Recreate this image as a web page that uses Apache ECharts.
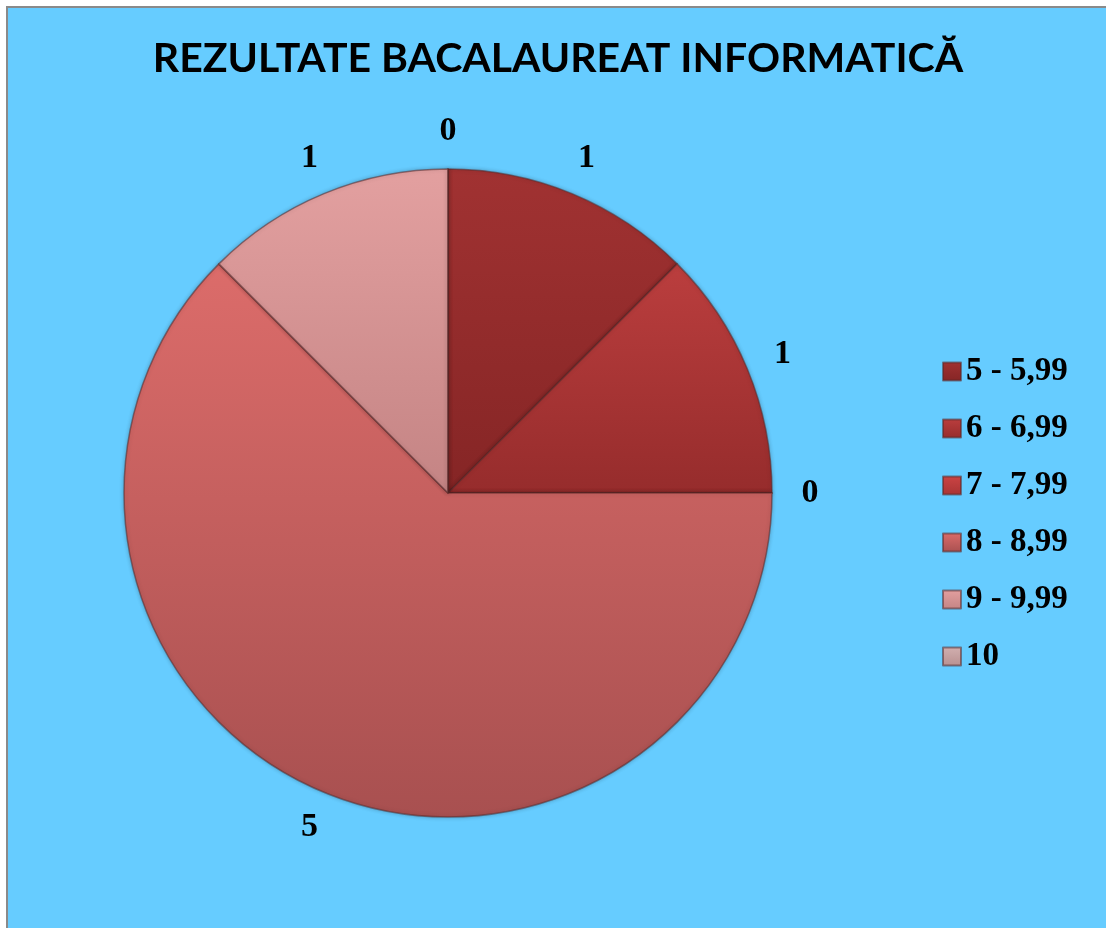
<!DOCTYPE html>
<html>
<head>
<meta charset="utf-8">
<script src="https://cdn.jsdelivr.net/npm/echarts@6/dist/echarts.min.js"></script>
<style>
  html, body { margin: 0; padding: 0; background: #ffffff; }
  #frame {
    position: absolute; left: 6px; top: 6px;
    width: 1100px; height: 922px;
    border-top: 2px solid #8a8a8a; border-left: 2px solid #8a8a8a;
    background: #66ccff;
  }
  #chart { width: 1100px; height: 922px; }
</style>
</head>
<body>
<div id="frame"><div id="chart"></div></div>
<script>
// note categories (intervale de note) and number of students
const categories = ['5 - 5,99', '6 - 6,99', '7 - 7,99', '8 - 8,99', '9 - 9,99', '10']
const counts = [1, 1, 0, 5, 1, 0]

// top / bottom shade of every slice
const topColors = ['#a13232', '#bb3e3e', '#cc4444', '#dc6c6a', '#e3a0a0', '#d2b0b0']
const bottomColors = ['#852525', '#962c2c', '#a83434', '#a85050', '#c48484', '#b89090']

const shade = (i) => new echarts.graphic.LinearGradient(0, 0, 0, 1, [
    { offset: 0, color: topColors[i] },
    { offset: 1, color: bottomColors[i] }
])

const chart = echarts.init(document.getElementById('chart'))

const center = [440, 485]
const radius = 324

const option = {
    backgroundColor: '#66ccff',
    animation: false,
    title: {
        text: 'REZULTATE BACALAUREAT INFORMATICĂ',
        left: 'center',
        top: 25,
        textStyle: {
            fontFamily: 'Lato',
            fontWeight: 'bold',
            fontSize: 41,
            color: '#000'
        }
    },
    legend: {
        orient: 'vertical',
        left: 929,
        top: 342,
        itemWidth: 18,
        itemHeight: 18,
        itemGap: 24,
        icon: 'rect',
        data: categories,
        textStyle: {
            fontFamily: 'Liberation Serif',
            fontWeight: 'bold',
            fontSize: 33,
            lineHeight: 32.5,
            color: '#000'
        }
    },
    series: [
        {
            type: 'pie',
            center: center,
            radius: radius,
            startAngle: 90,
            clockwise: true,
            silent: true,
            label: { show: false },
            labelLine: { show: false },
            itemStyle: {
                borderColor: 'rgba(90, 40, 40, 0.55)',
                borderWidth: 1.5,
                shadowColor: 'rgba(0, 0, 0, 0.25)',
                shadowBlur: 4
            },
            data: categories.map((name, i) => ({
                name: name,
                value: counts[i],
                itemStyle: { color: shade(i) }
            }))
        },
        {
            // ring outside the pie that only carries the value labels
            type: 'pie',
            center: center,
            radius: [radius, radius + 70],
            startAngle: 90,
            clockwise: true,
            silent: true,
            legendHoverLink: false,
            itemStyle: { color: 'rgba(0,0,0,0)' },
            label: {
                show: true,
                position: 'inside',
                formatter: '{c}',
                fontFamily: 'Liberation Serif',
                fontWeight: 'bold',
                fontSize: 34,
                color: '#000'
            },
            labelLine: { show: false },
            data: categories.map((name, i) => ({ name: name, value: counts[i] }))
        }
    ]
}

chart.setOption(option)
</script>
</body>
</html>
